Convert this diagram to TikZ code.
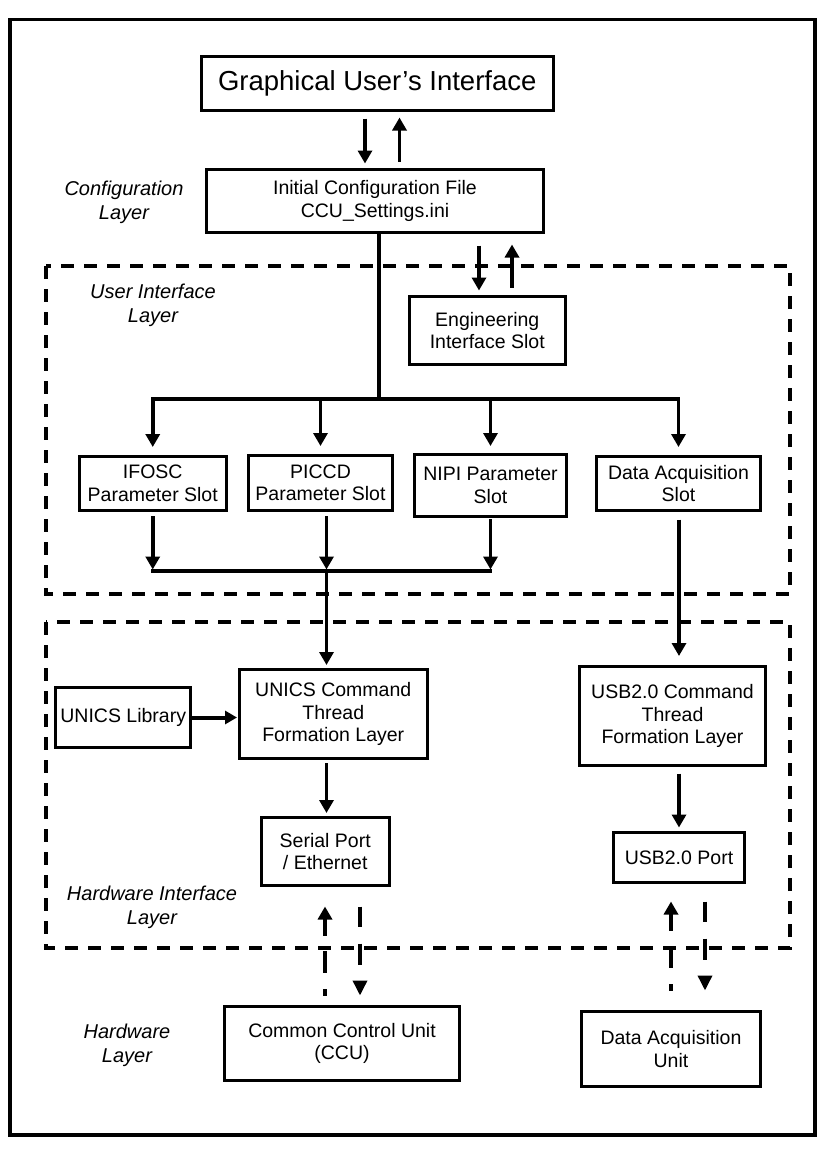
\documentclass[tikz,border=0pt]{standalone}
\usepackage{fontspec}
\setmainfont{Liberation Sans}
\usetikzlibrary{arrows.meta}
\begin{document}
\begin{tikzpicture}[x=1bp,y=-1bp,
  box/.style={draw, line width=3bp, inner sep=0pt, align=center,
    font=\fontsize{19.5bp}{22.5bp}\selectfont},
  biglbl/.style={font=\fontsize{27.5bp}{30bp}\selectfont},
  layerlbl/.style={align=center, inner sep=0pt,
    font=\fontsize{20bp}{24bp}\selectfont\itshape},
  arr/.style={line width=3.5bp, -{Triangle[length=13bp,width=14bp]}},
  ln/.style={line width=3.5bp},
  dashrect/.style={line width=3.5bp, dash pattern=on 13bp off 10bp},
  dashup/.style={line width=3.5bp, -{Triangle[length=13bp,width=14bp]},
    dash pattern=on 7bp off 16bp on 22bp off 15bp on 60bp off 1bp},
  dashdown/.style={line width=3.5bp, -{Triangle[length=15bp,width=14bp]},
    dash pattern=on 20bp off 17bp on 21bp off 60bp}
]
\useasboundingbox (0,0) rectangle (830,1165);
\draw[line width=3.8bp] (10,19.5) rectangle (815,1135);

% layer frames
\draw[dashrect] (46,266) rectangle (790,594);
\draw[dashrect] (46,622) rectangle (790,948);

% layer labels
\node[layerlbl] (lcfg) at (124,202.5) {Configuration\\Layer};
\node[layerlbl] (lui) at (153,305) {User Interface\\Layer};
\node[layerlbl] (lhi) at (152,907) {Hardware Interface\\Layer};
\node[layerlbl] (lhw) at (127,1045.5) {Hardware\\Layer};

% boxes
\node[box, biglbl, minimum width=351.5bp, minimum height=54bp] (gui) at (377.25,83.5) {Graphical User’s Interface};
\node[box, minimum width=337bp, minimum height=63bp] (cfg) at (375,201) {Initial Configuration File\\CCU\_Settings.ini};
\node[box, minimum width=156.5bp, minimum height=68bp] (eng) at (487.25,330.5) {Engineering\\Interface Slot};
\node[box, minimum width=146.5bp, minimum height=54bp] (ifosc) at (152.75,483.5) {IFOSC\\Parameter Slot};
\node[box, minimum width=144bp, minimum height=55bp] (piccd) at (320.5,483) {PICCD\\Parameter Slot};
\node[box, minimum width=152bp, minimum height=62bp] (nipi) at (490.5,485.5) {NIPI Parameter\\Slot};
\node[box, minimum width=164bp, minimum height=54bp] (daslot) at (678.5,483.5) {Data Acquisition\\Slot};
\node[box, minimum width=134.5bp, minimum height=60bp] (unilib) at (123.25,717.5) {UNICS Library};
\node[box, minimum width=187.5bp, minimum height=89bp] (unicmd) at (333.25,714) {UNICS Command\\Thread\\Formation Layer};
\node[box, minimum width=127.5bp, minimum height=68bp] (serial) at (325.25,851.5) {Serial Port\\/ Ethernet};
\node[box, minimum width=186bp, minimum height=99bp] (usbcmd) at (672.5,716) {USB2.0 Command\\Thread\\Formation Layer};
\node[box, minimum width=131bp, minimum height=50bp] (usbport) at (679,857.5) {USB2.0 Port};
\node[box, minimum width=235bp, minimum height=74bp] (ccu) at (342,1043.5) {Common Control Unit\\(CCU)};
\node[box, minimum width=179bp, minimum height=75bp] (dau) at (671,1049) {Data Acquisition\\Unit};

% guide coordinates
\coordinate (v1) at (365,0);
\coordinate (v2) at (399.5,0);
\coordinate (v3) at (379,0);
\coordinate (v4) at (479,0);
\coordinate (v5) at (512,0);
\coordinate (v6) at (326.5,0);
\coordinate (v7) at (679,0);
\coordinate (v8) at (325,0);
\coordinate (v9) at (360,0);
\coordinate (v10) at (671,0);
\coordinate (v11) at (705,0);
\coordinate (hb) at (0,399);
\coordinate (hm) at (0,571);

% GUI <-> configuration
\draw[arr] ([yshift=-6.5bp]gui.south -| v1) -- ([yshift=4.5bp]cfg.north -| v1);
\draw[arr] ([yshift=6.5bp]cfg.north -| v2) -- ([yshift=-5.5bp]gui.south -| v2);

% configuration <-> engineering
\draw[arr] ([yshift=-11.5bp]cfg.south -| v4) -- ([yshift=4.5bp]eng.north -| v4);
\draw[arr] ([yshift=7.5bp]eng.north -| v5) -- ([yshift=-10.5bp]cfg.south -| v5);

% distribution trunk
\draw[ln] (cfg.south -| v3) -- (hb -| v3);
\draw[ln, line cap=rect] (hb -| ifosc) -- (hb -| daslot);
\draw[arr] (hb -| ifosc) -- ([yshift=8bp]ifosc.north);
\draw[arr] (hb -| piccd) -- ([yshift=8bp]piccd.north);
\draw[arr] (hb -| nipi) -- ([yshift=7bp]nipi.north);
\draw[arr] (hb -| daslot) -- ([yshift=8bp]daslot.north);

% merge
\draw[arr] ([yshift=-4bp]ifosc.south) -- ([yshift=1.5bp]hm -| ifosc);
\draw[arr] ([yshift=-4bp]piccd.south -| v6) -- ([yshift=1.5bp]hm -| v6);
\draw[arr] ([yshift=-1bp]nipi.south) -- ([yshift=1.5bp]hm -| nipi);
\draw[ln, line cap=rect] (hm -| ifosc) -- (hm -| nipi);
\draw[arr] (hm -| v6) -- ([yshift=3bp]unicmd.north -| v6);

% data acquisition path
\draw[arr] ([yshift=-7.5bp]daslot.south -| v7) -- ([yshift=9bp]usbcmd.north -| v7);

% hardware interface
\draw[line width=4bp, -{Triangle[length=12bp,width=13bp]}, shorten >=1bp] (unilib.east) -- (unilib.east -| unicmd.west);
\draw[arr] ([yshift=-3bp]unicmd.south -| v6) -- ([yshift=3bp]serial.north -| v6);
\draw[arr] ([yshift=-6.5bp]usbcmd.south -| v7) -- ([yshift=3.5bp]usbport.north -| v7);

% hardware links
\draw[dashup] ([yshift=9.5bp]ccu.north -| v8) -- ([yshift=-19.5bp]serial.south -| v8);
\draw[dashdown] ([yshift=-19.5bp]serial.south -| v9) -- ([yshift=9.5bp]ccu.north -| v9);
\draw[dashup] ([yshift=19.5bp]dau.north -| v10) -- ([yshift=-17.5bp]usbport.south -| v10);
\draw[dashdown] ([yshift=-17.5bp]usbport.south -| v11) -- ([yshift=19.5bp]dau.north -| v11);
\end{tikzpicture}
\end{document}
